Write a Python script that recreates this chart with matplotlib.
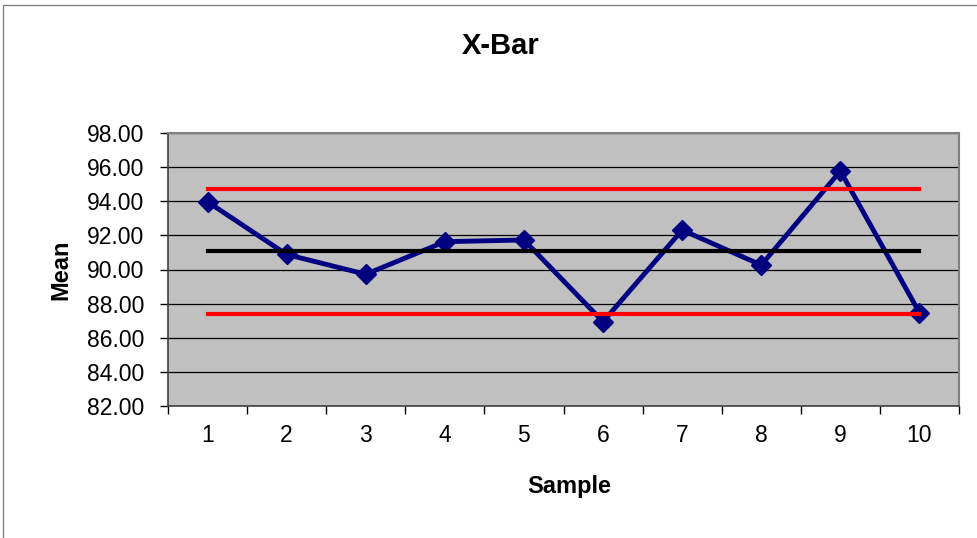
import matplotlib.pyplot as plt
from matplotlib.patches import Rectangle

# Data
samples = [1, 2, 3, 4, 5, 6, 7, 8, 9, 10]
means = [93.97, 90.88, 89.72, 91.63, 91.73, 86.94, 92.31, 90.26, 95.77, 87.47]
ucl = [94.72] * len(samples)
cl = [91.07] * len(samples)
lcl = [87.42] * len(samples)
y_ticks = [82, 84, 86, 88, 90, 92, 94, 96, 98]

plt.rcParams['font.family'] = ['Liberation Sans', 'DejaVu Sans']

fig = plt.figure(figsize=(9.77, 5.38), dpi=100)
ax = fig.add_axes([168 / 977, 1 - 406 / 538, (959 - 168) / 977, (406 - 133) / 538])

# outer chart border (top and left visible, rest cropped)
fig.patches.append(Rectangle((3 / 977, -0.1), 1.2, 1 - 5 / 538 + 0.1,
                             transform=fig.transFigure, fill=False,
                             edgecolor='#808080', linewidth=1))

ax.set_facecolor('#C0C0C0')
ax.plot(samples, means, color='#000080', linewidth=3.5, marker='D',
        markersize=10.5, zorder=3)
ax.plot(samples, ucl, color='#FF0000', linewidth=3, zorder=4)
ax.plot(samples, cl, color='#000000', linewidth=3, zorder=4)
ax.plot(samples, lcl, color='#FF0000', linewidth=3, zorder=4)

ax.set_xlim(0.5, 10.5)
ax.set_ylim(82, 98)
ax.set_yticks(y_ticks)
ax.set_yticklabels(['%.2f' % v for v in y_ticks])
ax.yaxis.grid(True, color='black', linewidth=0.9)
ax.set_axisbelow(True)

ax.set_xticks(samples)
ax.set_xticklabels([str(s) for s in samples])
ax.set_xticks([s - 0.5 for s in samples] + [10.5], minor=True)
ax.tick_params(axis='x', which='major', length=0, pad=13, labelsize=16.5)
ax.tick_params(axis='x', which='minor', length=6, width=1, color='black')
ax.tick_params(axis='y', length=6, width=1, pad=11, labelsize=16.5)

for side in ['top', 'right']:
    ax.spines[side].set_color('#808080')
    ax.spines[side].set_linewidth(1.5)
for side in ['left', 'bottom']:
    ax.spines[side].set_color('#404040')
    ax.spines[side].set_linewidth(1.2)

fig.text(501 / 977, 1 - 46 / 538, 'X-Bar', ha='center', va='center',
         fontsize=21, fontweight='bold')
fig.text(61 / 977, 1 - 270 / 538, 'Mean', ha='center', va='center',
         rotation=90, fontsize=17, fontweight='bold')
fig.text(569 / 977, 1 - 487 / 538, 'Sample', ha='center', va='center',
         fontsize=17, fontweight='bold')

fig.savefig('out.png', dpi=100)
